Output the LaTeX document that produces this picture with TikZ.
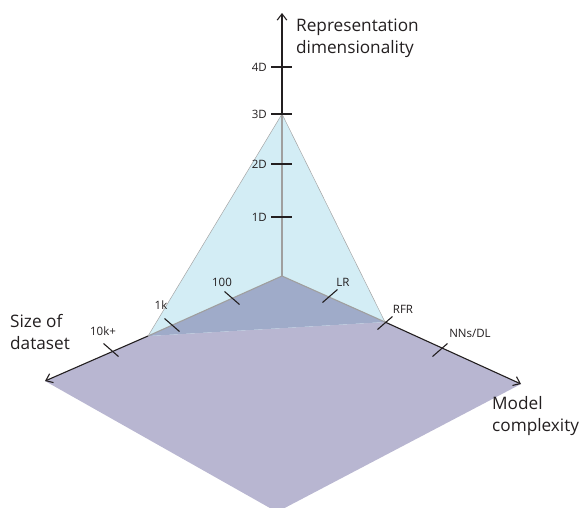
\documentclass[tikz,border=0pt]{standalone}
\usepackage{fontspec}
\setmainfont{Open Sans}
\usetikzlibrary{arrows.meta}
\definecolor{repblue}{HTML}{D3EDF5}
\definecolor{coreblue}{HTML}{9FABC9}
\definecolor{sizepurple}{HTML}{B8B6D1}
\definecolor{inkgray}{HTML}{231F20}
\tikzset{
  axis/.style={-{Straight Barb[length=2.2mm,width=3.4mm]}, line width=1.1pt, draw=inkgray},
  hidden/.style={line width=1.1pt, draw=gray!75},
  tickmark/.style={line width=1.1pt, draw=inkgray},
  ticklab/.style={font=\fontsize{11.5}{13}\selectfont, inner sep=0pt, text=inkgray},
  axlab/.style={font=\fontsize{17.2}{22}\selectfont, align=left, inner sep=0pt, text=inkgray},
}
\begin{document}
\begin{tikzpicture}[x=1pt, y=-1pt]
  \clip (0,0) rectangle (584,507);
  % axes end points
  \coordinate (o) at (282,276);
  \coordinate (dtip) at (282,13);
  \coordinate (stip) at (45,381);
  \coordinate (mtip) at (521,384);
  \coordinate (lc) at (148,336);
  \coordinate (rc) at (385,322);
  \coordinate (bot) at (277,512);
  % ticks
  \coordinate (d1) at (282,217);
  \coordinate (d2) at (282,164);
  \coordinate (d3) at (282,114);
  \coordinate (d4) at (282,67);
  \coordinate (s100) at (232,298);
  \coordinate (s1k) at (172,325);
  \coordinate (s10k) at (111,350);
  \coordinate (mlr) at (330,296);
  \coordinate (mrfr) at (385,323);
  \coordinate (mnn) at (440,350);

  % planes
  \fill[sizepurple] (lc) -- (stip) -- (bot) -- (mtip) -- (rc) -- cycle;
  \fill[repblue] (d3) -- (lc) -- (rc) -- cycle;
  \draw[gray!70, line width=0.5pt] (lc) -- (d3) -- (rc);
  \fill[coreblue] (o) -- (lc) -- (rc) -- cycle;

  % axes
  \draw[hidden] (o) -- (d3);
  \draw[hidden] (o) -- (lc);
  \draw[hidden] (o) -- (rc);
  \draw[axis] (d3) -- (dtip);
  \draw[axis] (lc) -- (stip);
  \draw[axis] (rc) -- (mtip);

  \foreach \t in {d1,d2,d3,d4}
    \draw[tickmark] ([xshift=-11pt]\t) -- ([xshift=10pt]\t);
  \foreach \t in {s100,s1k,s10k}
    \draw[tickmark, shift={(\t)}] (-7.5,-6.5) -- (7.5,6.5);
  \foreach \t in {mlr,mrfr,mnn}
    \draw[tickmark, shift={(\t)}] (-7.5,6.5) -- (7.5,-6.5);

  % labels
  \node[ticklab, anchor=east] (l1) at (267,217) {1D};
  \node[ticklab, anchor=east] (l2) at (267,164) {2D};
  \node[ticklab, anchor=east] (l3) at (267,114) {3D};
  \node[ticklab, anchor=east] (l4) at (267,67) {4D};
  \node[ticklab] (l100) at (222,282) {100};
  \node[ticklab] (l1k) at (161,305) {1k};
  \node[ticklab] (l10k) at (103,331) {10k+};
  \node[ticklab] (llr) at (343,282) {LR};
  \node[ticklab] (lrfr) at (403,309) {RFR};
  \node[ticklab] (lnn) at (470,333) {NNs/DL};
  \node[axlab, anchor=north west] (dimlab) at (296,19) {Representation\\dimensionality};
  \node[axlab, anchor=north west] (sizelab) at (10,314) {Size of\\dataset};
  \node[axlab, anchor=north west] (modlab) at (492,396) {Model\\complexity};
\end{tikzpicture}
\end{document}
